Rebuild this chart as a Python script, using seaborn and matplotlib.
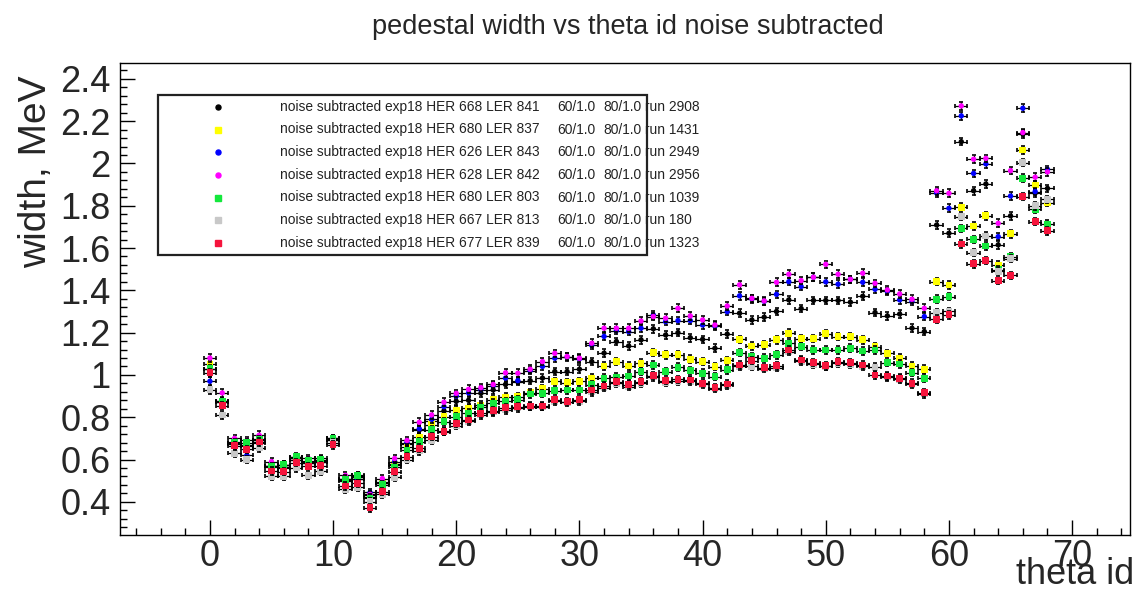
import numpy as np
import pandas as pd
import matplotlib
matplotlib.use("Agg")
import matplotlib.pyplot as plt
import seaborn as sns
from matplotlib.patches import Rectangle
from matplotlib.lines import Line2D
from matplotlib.ticker import MultipleLocator

W, H = 1137, 590

theta = list(range(69))

# legend info per run
her = [668, 680, 626, 628, 680, 667, 677]
ler = [841, 837, 843, 842, 803, 813, 839]
runs = [2908, 1431, 2949, 2956, 1039, 180, 1323]
colors = ["#000000", "#ffff00", "#0000ff", "#ff00ff", "#14e83c", "#c8c8c8", "#f5143c"]
markers = ["o", "s", "o", "o", "s", "s", "s"]

w_black = [1.03, 0.87, 0.675, 0.665, 0.68, 0.565, 0.56, 0.60, 0.585, 0.59,
           0.69, 0.50, 0.51, 0.43, 0.49, 0.58, 0.675, 0.74, 0.78, 0.83,
           0.875, 0.88, 0.913, 0.929, 0.955, 0.968, 0.973, 0.985, 1.016, 1.016,
           1.027, 1.063, 1.103, 1.158, 1.137, 1.166, 1.218, 1.189, 1.20, 1.176,
           1.168, 1.126, 1.193, 1.292, 1.26, 1.273, 1.30, 1.355, 1.314, 1.352,
           1.352, 1.352, 1.344, 1.372, 1.295, 1.279, 1.288, 1.221, 1.205, 1.709,
           1.670, 2.103, 1.871, 1.903, 1.615, 1.752, 2.14, 1.86, 1.882]
w_yellow = [1.05, 0.875, 0.685, 0.67, 0.69, 0.57, 0.575, 0.605, 0.59, 0.595,
            0.695, 0.51, 0.515, 0.425, 0.49, 0.575, 0.657, 0.705, 0.764, 0.803,
            0.834, 0.842, 0.858, 0.882, 0.895, 0.897, 0.916, 0.935, 0.969, 0.964,
            0.969, 0.985, 1.042, 1.063, 1.042, 1.055, 1.106, 1.095, 1.095, 1.074,
            1.063, 1.039, 1.069, 1.168, 1.137, 1.142, 1.166, 1.197, 1.172, 1.172,
            1.194, 1.181, 1.181, 1.166, 1.134, 1.102, 1.079, 1.042, 1.027, 1.441,
            1.425, 1.793, 1.704, 1.752, 1.52, 1.667, 2.064, 1.898, 1.815]
w_blue = [0.97, 0.87, 0.68, 0.62, 0.685, 0.57, 0.565, 0.60, 0.585, 0.59,
          0.69, 0.505, 0.51, 0.444, 0.495, 0.59, 0.68, 0.745, 0.79, 0.85,
          0.90, 0.915, 0.93, 0.948, 0.985, 0.973, 1.02, 1.04, 1.079, 1.085,
          1.076, 1.14, 1.182, 1.21, 1.205, 1.221, 1.284, 1.252, 1.257, 1.257,
          1.236, 1.23, 1.299, 1.374, 1.36, 1.348, 1.381, 1.441, 1.418, 1.462,
          1.44, 1.429, 1.452, 1.438, 1.405, 1.395, 1.355, 1.347, 1.276, 1.86,
          1.788, 2.225, 1.953, 1.998, 1.654, 1.846, 2.261, 1.867, 1.972]
w_magenta = [1.08, 0.915, 0.70, 0.69, 0.715, 0.59, 0.575, 0.61, 0.605, 0.605,
             0.70, 0.525, 0.525, 0.435, 0.51, 0.605, 0.69, 0.776, 0.811, 0.871,
             0.913, 0.932, 0.94, 0.955, 1.01, 1.008, 1.027, 1.063, 1.102, 1.087,
             1.079, 1.15, 1.221, 1.221, 1.221, 1.255, 1.276, 1.268, 1.315, 1.279,
             1.26, 1.236, 1.326, 1.426, 1.362, 1.35, 1.438, 1.476, 1.446, 1.462,
             1.523, 1.476, 1.452, 1.481, 1.433, 1.402, 1.383, 1.358, 1.315, 1.871,
             1.859, 2.272, 2.02, 2.024, 1.717, 1.966, 2.146, 1.935, 1.96]
w_green = [1.03, 0.875, 0.68, 0.68, 0.695, 0.567, 0.575, 0.614, 0.595, 0.60,
           0.70, 0.507, 0.524, 0.417, 0.48, 0.564, 0.645, 0.685, 0.74, 0.779,
           0.803, 0.819, 0.847, 0.866, 0.875, 0.882, 0.91, 0.913, 0.926, 0.929,
           0.929, 0.953, 0.984, 0.989, 0.995, 1.016, 1.047, 1.016, 1.036, 1.021,
           1.008, 0.992, 1.024, 1.106, 1.087, 1.079, 1.095, 1.150, 1.134, 1.118,
           1.118, 1.118, 1.126, 1.113, 1.118, 1.058, 1.052, 1.011, 0.984, 1.358,
           1.370, 1.693, 1.641, 1.61, 1.497, 1.559, 1.93, 1.783, 1.714]
w_gray = [0.93, 0.81, 0.63, 0.60, 0.655, 0.52, 0.52, 0.56, 0.525, 0.545,
          0.68, 0.46, 0.468, 0.40, 0.435, 0.515, 0.60, 0.64, 0.69, 0.735,
          0.76, 0.78, 0.81, 0.825, 0.835, 0.845, 0.85, 0.85, 0.875, 0.87,
          0.875, 0.92, 0.94, 0.96, 0.945, 0.96, 0.99, 0.965, 0.97, 0.97,
          0.955, 0.935, 0.95, 1.04, 1.04, 1.03, 1.035, 1.11, 1.065, 1.05,
          1.04, 1.055, 1.05, 1.04, 1.036, 0.99, 0.98, 0.955, 0.91, 1.295,
          1.30, 1.749, 1.578, 1.657, 1.49, 1.55, 2.004, 1.80, 1.83]
w_red = [1.01, 0.855, 0.665, 0.648, 0.683, 0.546, 0.543, 0.585, 0.567, 0.57,
         0.67, 0.475, 0.487, 0.372, 0.448, 0.543, 0.614, 0.653, 0.708, 0.732,
         0.771, 0.787, 0.819, 0.83, 0.845, 0.85, 0.853, 0.853, 0.882, 0.874,
         0.882, 0.929, 0.948, 0.968, 0.953, 0.968, 0.997, 0.973, 0.979, 0.976,
         0.961, 0.94, 0.957, 1.047, 1.068, 1.035, 1.043, 1.118, 1.071, 1.058,
         1.043, 1.063, 1.058, 1.047, 1.0, 0.995, 0.984, 0.961, 0.916, 1.263,
         1.284, 1.619, 1.525, 1.541, 1.446, 1.471, 1.843, 1.725, 1.682]

widths = [w_black, w_yellow, w_blue, w_magenta, w_green, w_gray, w_red]
x_err = 0.5
y_err = 0.018

labels = [f"run {r}" for r in runs]
df = pd.concat([pd.DataFrame({"theta": theta, "width": w, "run": lab})
                for w, lab in zip(widths, labels)], ignore_index=True)

sns.set_style("white")
plt.rcParams["font.family"] = ["Liberation Sans", "DejaVu Sans"]

fig = plt.figure(figsize=(W / 100, H / 100), dpi=100)
ax = fig.add_axes([120 / W, 1 - 535 / H, (1130 - 120) / W, (535 - 63) / H])

for i, (lab, col, mk) in enumerate(zip(labels, colors, markers)):
    sub = df[df["run"] == lab]
    ax.errorbar(sub["theta"], sub["width"], xerr=x_err, yerr=y_err, fmt="none",
                ecolor="black", elinewidth=0.9, capsize=1.3, capthick=1.2, zorder=2 + 2 * i)
    sns.scatterplot(data=sub, x="theta", y="width", color=col, marker=mk,
                    s=24 if mk == "s" else 15, edgecolor="none", linewidth=0,
                    legend=False, ax=ax, zorder=3 + 2 * i)

ax.set_xlim(-7.3, 74.7)
ax.set_ylim(0.243, 2.475)
ax.xaxis.set_major_locator(MultipleLocator(10))
ax.xaxis.set_minor_locator(MultipleLocator(2))
ax.yaxis.set_minor_locator(MultipleLocator(0.04))
ax.set_yticks(np.arange(0.4, 2.41, 0.2))
ax.set_yticklabels([f"{v:g}" for v in np.round(np.arange(0.4, 2.41, 0.2), 1)])
ax.tick_params(which="both", direction="in", bottom=True, left=True, top=False, right=False,
               labelsize=26, width=1, color="black")
ax.tick_params(which="major", length=11)
ax.tick_params(which="minor", length=5)
ax.tick_params(axis="y", which="major", pad=7)
ax.tick_params(axis="x", which="major", pad=3)
for sp in ax.spines.values():
    sp.set_color("black")
    sp.set_linewidth(1)
ax.set_xlabel("")
ax.set_ylabel("")

fig.text(628 / W, 1 - 27 / H, "pedestal width vs theta id noise subtracted",
         ha="center", va="center", fontsize=19.5)
fig.text(36 / W, 1 - 76 / H, "width, MeV", rotation=90, ha="center", va="top", fontsize=28)
fig.text(1134 / W, 1 - 574 / H, "theta id", ha="right", va="center", fontsize=26)

# legend box drawn like the ROOT TLegend
fig.add_artist(Rectangle((158 / W, 1 - 255 / H), (647 - 158) / W, (255 - 95) / H,
                         transform=fig.transFigure, fill=True, facecolor="white",
                         edgecolor="#222222", linewidth=1.6, zorder=20))
row_y = [107, 129.5, 152, 174.5, 197.5, 220, 243]
for i in range(len(runs)):
    yy = 1 - row_y[i] / H
    fig.add_artist(Line2D([218 / W], [yy], marker=markers[i], color=colors[i],
                          markersize=4.2 if markers[i] == "s" else 3.6,
                          linestyle="none", transform=fig.transFigure, zorder=21))
    fig.text(280 / W, yy, f"noise subtracted exp18 HER {her[i]} LER {ler[i]}",
             ha="left", va="center", fontsize=9.9, color="#222222", zorder=22)
    fig.text(557 / W, yy, "60/1.0", ha="left", va="center", fontsize=9.9, color="#222222", zorder=22)
    fig.text(603 / W, yy, "80/1.0", ha="left", va="center", fontsize=9.9, color="#222222", zorder=22)
    fig.text(645 / W, yy, f"run {runs[i]}", ha="left", va="center", fontsize=9.9, color="#222222", zorder=22)

fig.savefig("out.png", dpi=100)
